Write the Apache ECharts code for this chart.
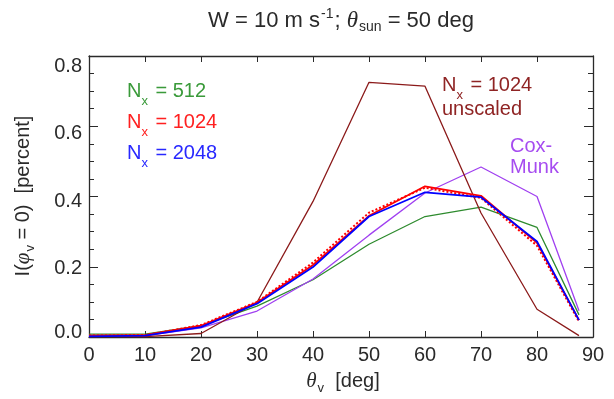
<!DOCTYPE html>
<html><head><meta charset="utf-8">
<script src="https://cdn.jsdelivr.net/npm/echarts@6/dist/echarts.min.js"></script>
<style>html,body{margin:0;padding:0;background:#fff}#c{width:614px;height:399px}</style>
</head><body><div id="c"></div>
<script>
// ---- data ----
const viewAngles = [0, 10, 20, 30, 40, 50, 60, 70, 80, 87.5];
const nx512 = [0.008, 0.008, 0.032, 0.088, 0.163, 0.264, 0.343, 0.370, 0.312, 0.063];
const nx1024 = [0.004, 0.005, 0.032, 0.098, 0.205, 0.345, 0.429, 0.402, 0.268, 0.048];
const nx1024Dotted = [0.004, 0.005, 0.034, 0.100, 0.212, 0.354, 0.425, 0.396, 0.260, 0.044];
const nx2048 = [0.002, 0.004, 0.028, 0.095, 0.199, 0.343, 0.412, 0.398, 0.272, 0.048];
const nx1024Unscaled = [0.001, 0.001, 0.010, 0.099, 0.386, 0.725, 0.714, 0.353, 0.079, 0.004];
const coxMunk = [0.003, 0.003, 0.026, 0.074, 0.165, 0.290, 0.410, 0.484, 0.400, 0.075];
const xTickLabels = ['0', '10', '20', '30', '40', '50', '60', '70', '80', '90'];
const yTickLabels = ['0.0', '0.2', '0.4', '0.6', '0.8'];

const FONT = '"Liberation Sans", Arial, Helvetica, sans-serif';
const SERIF = '"Liberation Serif", "DejaVu Serif", serif';
const INK = '#2a2a2a';
const C_GREEN = '#2e8b2e', C_RED = '#ff0000', C_BLUE = '#0000ff', C_BROWN = '#8b1a1a', C_PURPLE = '#a040f0';
const T_GREEN = '#3a9a3a', T_RED = '#ff2020', T_BLUE = '#2828ff', T_BROWN = '#8f2424', T_PURPLE = '#a64cf0';

function pairs(ys) { return viewAngles.map((x, i) => [x, ys[i]]); }

const yShift = [-5, 2, 5, 7, 10];
const yRich = {};
yShift.forEach((s, i) => {
  yRich['y' + i] = { fontSize: 20, fontFamily: FONT, color: INK,
    padding: s >= 0 ? [2 * s, 0, 0, 0] : [0, 0, -2 * s, 0] };
});

const baseX = {
  type: 'value', min: 0, max: 90, interval: 10,
  axisLine: { show: true, onZero: false, lineStyle: { color: INK, width: 1.3 } },
  axisTick: { show: true, inside: true, length: 6, lineStyle: { color: INK, width: 1 } },
  splitLine: { show: false }
};
const baseY = {
  type: 'value', min: 0, max: 0.8, interval: 0.2,
  axisLine: { show: true, onZero: false, lineStyle: { color: INK, width: 1.3 } },
  axisTick: { show: true, inside: true, length: 9, lineStyle: { color: INK, width: 1 } },
  minorTick: { show: true, splitNumber: 4, length: 5, lineStyle: { color: INK, width: 1 } },
  splitLine: { show: false }, minorSplitLine: { show: false }
};

function text(x, y, content, rich, opts) {
  return {
    type: 'text', x: x, y: y, silent: true,
    style: Object.assign({ text: content, rich: rich || undefined, align: 'left', verticalAlign: 'middle',
      fontSize: 20, fontFamily: FONT, fill: INK }, opts || {})
  };
}
function nxRich(color) {
  return {
    n: { fontSize: 20, fontFamily: FONT, fill: color, verticalAlign: 'middle' },
    s: { fontSize: 13, fontFamily: FONT, fill: color, verticalAlign: 'middle', padding: [20, 2, 0, 0] }
  };
}
function mathRich(size, subSize, subPad) {
  return {
    a: { fontSize: size, fontFamily: FONT, fill: INK, verticalAlign: 'middle' },
    t: { fontSize: size + 1, fontFamily: SERIF, fontStyle: 'italic', fill: INK, verticalAlign: 'middle' },
    sb: { fontSize: subSize, fontFamily: FONT, fill: INK, verticalAlign: 'middle', padding: [subPad, 0, 0, 1] },
    sp: { fontSize: subSize, fontFamily: FONT, fill: INK, verticalAlign: 'middle', padding: [0, 1, 14, 1] }
  };
}

const chart = echarts.init(document.getElementById('c'), null, { renderer: 'canvas' });
chart.setOption({
  animation: false,
  backgroundColor: '#fff',
  grid: { left: 89, right: 21, top: 56, bottom: 62, containLabel: false },
  xAxis: [
    Object.assign({}, baseX, { position: 'bottom',
      axisLabel: { show: true, fontSize: 20, fontFamily: FONT, color: INK, margin: 8,
        formatter: (v) => xTickLabels[Math.round(v / 10)] } }),
    Object.assign({}, baseX, { position: 'top', axisLabel: { show: false } })
  ],
  yAxis: [
    Object.assign({}, baseY, { position: 'left',
      axisLabel: { show: true, margin: 7, rich: yRich,
        formatter: (v) => { const i = Math.round(v * 5); return '{y' + i + '|' + yTickLabels[i] + '}'; } } }),
    Object.assign({}, baseY, { position: 'right', axisLabel: { show: false } })
  ],
  series: [
    { name: 'Nx = 512', type: 'line', data: pairs(nx512), showSymbol: false, lineStyle: { color: C_GREEN, width: 1.3 }, itemStyle: { color: C_GREEN } },
    { name: 'Cox-Munk', type: 'line', data: pairs(coxMunk), showSymbol: false, lineStyle: { color: C_PURPLE, width: 1.3 }, itemStyle: { color: C_PURPLE } },
    { name: 'Nx = 1024 unscaled', type: 'line', data: pairs(nx1024Unscaled), showSymbol: false, lineStyle: { color: C_BROWN, width: 1.3 }, itemStyle: { color: C_BROWN } },
    { name: 'Nx = 1024 (dotted)', type: 'line', data: pairs(nx1024Dotted), showSymbol: false, lineStyle: { color: C_RED, width: 2, type: 'dotted' }, itemStyle: { color: C_RED } },
    { name: 'Nx = 1024', type: 'line', data: pairs(nx1024), showSymbol: false, lineStyle: { color: C_RED, width: 1.8 }, itemStyle: { color: C_RED } },
    { name: 'Nx = 2048', type: 'line', data: pairs(nx2048), showSymbol: false, lineStyle: { color: C_BLUE, width: 1.8 }, itemStyle: { color: C_BLUE } }
  ],
  graphic: [
    text(341, 21, '{a|W = 10 m s}{sp|-1}{a|; }{t|θ}{sb|sun}{a| = 50 deg}', mathRich(22, 14, 13), { align: 'center' }),
    text(343, 381, '{t|θ}{sb|v}{a|  [deg]}', mathRich(20, 13, 14), { align: 'center' }),
    Object.assign(text(23, 196, '{a|I(}{t|φ}{sb|v}{a| = 0)  [percent]}', mathRich(20, 13, 14), { align: 'center' }),
      { rotation: Math.PI / 2 }),
    text(127, 91, '{n|N}{s|x}{n| = 512}', nxRich(T_GREEN)),
    text(127, 122, '{n|N}{s|x}{n| = 1024}', nxRich(T_RED)),
    text(127, 153, '{n|N}{s|x}{n| = 2048}', nxRich(T_BLUE)),
    text(442, 85, '{n|N}{s|x}{n| = 1024}', nxRich(T_BROWN)),
    text(442, 109, 'unscaled', null, { fill: T_BROWN }),
    text(510, 146, 'Cox-', null, { fill: T_PURPLE }),
    text(510, 167, 'Munk', null, { fill: T_PURPLE })
  ]
});
</script>
</body></html>
